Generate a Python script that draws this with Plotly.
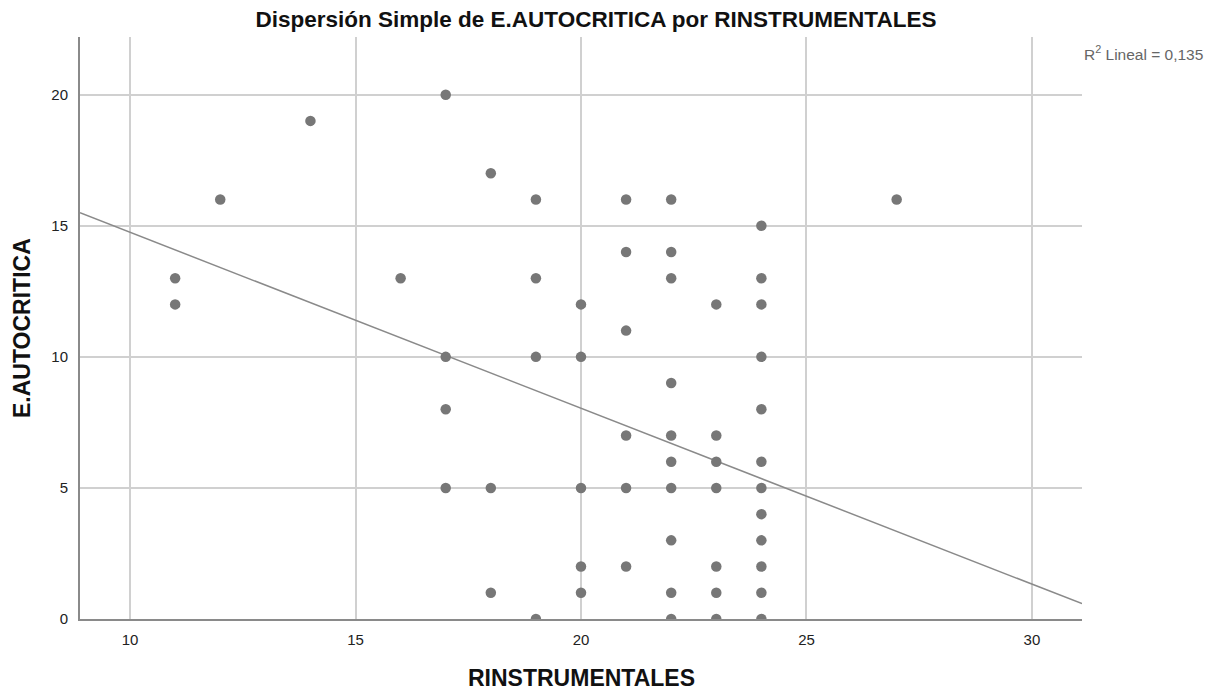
import plotly.graph_objects as go

# RINSTRUMENTALES (x) and E.AUTOCRITICA (y)
rinstrumentales = [11, 11, 12, 14, 16,
                   17, 17, 17, 17,
                   18, 18, 18,
                   19, 19, 19, 19,
                   20, 20, 20, 20, 20,
                   21, 21, 21, 21, 21, 21,
                   22, 22, 22, 22, 22, 22, 22, 22, 22, 22,
                   23, 23, 23, 23, 23, 23, 23,
                   24, 24, 24, 24, 24, 24, 24, 24, 24, 24, 24, 24,
                   27]
autocritica = [13, 12, 16, 19, 13,
               20, 10, 8, 5,
               17, 5, 1,
               16, 13, 10, 0,
               12, 10, 5, 2, 1,
               16, 14, 11, 7, 5, 2,
               16, 14, 13, 9, 7, 6, 5, 3, 1, 0,
               12, 7, 6, 5, 2, 1, 0,
               15, 13, 12, 10, 8, 6, 5, 4, 3, 2, 1, 0,
               16]

# linear fit as drawn in the reference
fit_intercept = 21.46
fit_slope = -0.671
r2_text = "R<sup>2</sup> Lineal = 0,135"

x_range = [8.89, 31.11]
y_range = [0, 22.2]

fit_x = x_range
fit_y = [fit_intercept + fit_slope * v for v in fit_x]

font_family = "Liberation Sans, Arial, sans-serif"

fig = go.Figure()

fig.add_trace(go.Scatter(
    x=fit_x, y=fit_y, mode="lines",
    line=dict(color="#8a8a8a", width=1.5),
    hoverinfo="skip", showlegend=False,
))

fig.add_trace(go.Scatter(
    x=rinstrumentales, y=autocritica, mode="markers",
    marker=dict(color="#777777", size=10.5, line=dict(width=0)),
    showlegend=False,
))

# R2 label, top right outside the plot area
fig.add_annotation(
    x=1.0, y=1.0, xref="paper", yref="paper",
    xanchor="left", yanchor="middle", xshift=0, yshift=-16,
    text=r2_text, showarrow=False,
    font=dict(family=font_family, size=15.5, color="#666666"),
)

# axis titles
fig.add_annotation(
    x=0.5, y=0, xref="paper", yref="paper",
    xanchor="center", yanchor="middle", yshift=-59,
    text="<b>RINSTRUMENTALES</b>", showarrow=False,
    font=dict(family=font_family, size=23, color="#111111"),
)
fig.add_annotation(
    x=0, y=0.5, xref="paper", yref="paper",
    xanchor="center", yanchor="middle", xshift=-58,
    text="<b>E.AUTOCRITICA</b>", showarrow=False, textangle=-90,
    font=dict(family=font_family, size=23, color="#111111"),
)

# the page body adds 8px around the figure, margins compensate for it
fig.update_layout(
    width=1216, height=694,
    margin=dict(l=72, r=142, t=29, b=83),
    paper_bgcolor="white", plot_bgcolor="white",
    font=dict(family=font_family, size=15, color="#222222"),
    title=dict(
        text="<b>Dispersión Simple de E.AUTOCRITICA por RINSTRUMENTALES</b>",
        x=588 / 1216, xanchor="center", y=1 - 3 / 694, yanchor="top",
        pad=dict(t=0, b=0),
        font=dict(size=22.5, color="#111111"),
    ),
    xaxis=dict(
        range=x_range, tickvals=[10, 15, 20, 25, 30],
        showgrid=True, gridcolor="#d0d0d0", gridwidth=1.5,
        zeroline=False, showline=True, linecolor="#8a8a8a", linewidth=2,
        ticks="", ticklabelstandoff=6, automargin=False,
    ),
    yaxis=dict(
        range=y_range, tickvals=[0, 5, 10, 15, 20],
        showgrid=True, gridcolor="#d0d0d0", gridwidth=1.5,
        zeroline=False, showline=True, linecolor="#8a8a8a", linewidth=2,
        ticks="", ticklabelstandoff=7, automargin=False,
    ),
)

fig.write_html("out.html")
